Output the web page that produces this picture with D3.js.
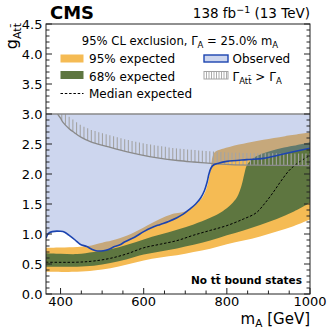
<!DOCTYPE html>
<html><head><meta charset="utf-8">
<script src="https://cdn.jsdelivr.net/npm/d3@7"></script>
<style>body{margin:0;background:#fff} svg{display:block} text{font-family:"DejaVu Sans",sans-serif;fill:#000}</style>
</head><body>
<svg id="c" width="333" height="333"></svg>
<script>
// ---- data (m_A in GeV, coupling g) ----
const observed = [[365,0.93],[371,1.01],[380,1.04],[400,1.045],[410,1.03],[420,0.98],[435,0.90],[447,0.83],[463,0.79],[475,0.745],[485,0.72],[503,0.72],[515,0.74],[530,0.79],[543,0.82],[555,0.87],[578,0.945],[600,1.04],[620,1.11],[640,1.16],[660,1.21],[680,1.27],[695,1.33],[710,1.41],[725,1.50],[737,1.60],[746,1.72],[752,1.85],[757,2.0],[762,2.10],[768,2.15],[780,2.18],[800,2.21],[848,2.24],[888,2.26],[928,2.32],[960,2.37],[1000,2.43]];
const exp95Hi = [[365,0.77],[400,0.775],[440,0.785],[466,0.80],[500,0.855],[523,0.89],[562,0.98],[600,1.11],[633,1.23],[673,1.34],[690,1.36],[700,1.38],[720,1.46],[740,1.60],[750,1.74],[756,1.9],[761,2.08],[766,2.3],[772,2.37],[808,2.455],[850,2.52],[888,2.57],[940,2.63],[1000,2.69]];
const exp68Hi = [[365,0.68],[400,0.67],[440,0.665],[480,0.70],[520,0.745],[560,0.82],[600,0.91],[640,0.99],[680,1.07],[720,1.16],[760,1.27],[790,1.38],[810,1.49],[825,1.62],[835,1.80],[842,2.0],[847,2.13],[855,2.21],[870,2.29],[890,2.35],[930,2.43],[960,2.47],[1000,2.53]];
const expMedian = [[365,0.53],[440,0.53],[480,0.55],[520,0.595],[560,0.67],[600,0.77],[640,0.83],[680,0.89],[720,0.98],[760,1.06],[800,1.14],[840,1.25],[870,1.35],[890,1.50],[910,1.68],[930,1.88],[950,2.06],[970,2.18],[1000,2.31]];
const exp68Lo = [[365,0.455],[440,0.455],[480,0.47],[520,0.515],[560,0.58],[600,0.66],[640,0.71],[680,0.76],[720,0.82],[760,0.89],[800,0.98],[840,1.06],[880,1.15],[920,1.25],[960,1.37],[1000,1.52]];
const exp95Lo = [[365,0.37],[440,0.37],[480,0.39],[520,0.43],[560,0.49],[600,0.56],[640,0.61],[680,0.645],[720,0.70],[760,0.755],[800,0.83],[840,0.89],[880,0.96],[920,1.04],[960,1.13],[1000,1.24]];
const widthLimit = [[385,3.12],[393,3.0],[400,2.93],[405,2.87],[420,2.76],[433,2.69],[450,2.61],[473,2.535],[513,2.455],[553,2.38],[593,2.32],[633,2.27],[681,2.225],[720,2.2],[777,2.17],[808,2.155],[900,2.145],[1000,2.14]];
const xTicks = [400,600,800,1000];
const yTicks = [0,0.5,1,1.5,2,2.5,3,3.5,4,4.5];

// ---- layout ----
const L=46,R=310,T=24,B=294;
const x=d3.scaleLinear().domain([365,1000]).range([L,R]);
const y=d3.scaleLinear().domain([0,4.5]).range([B,T]);
const svg=d3.select('#c');
const defs=svg.append('defs');
defs.append('clipPath').attr('id','plot').append('rect')
  .attr('x',L).attr('y',y(3.0)).attr('width',R-L).attr('height',B-y(3.0));
const g=svg.append('g').attr('clip-path','url(#plot)');
const line=d3.line().x(d=>x(d[0])).y(d=>y(d[1])).curve(d3.curveCatmullRom.alpha(0.5));
const band=(hi,lo)=>line(hi)+'L'+line(lo.slice().reverse()).slice(1)+'Z';

const YEL='#f5bb54', GRN='#5e7640', OBSF='#6782cb', OBSL='#1c44b0';
g.append('path').attr('d',band(exp95Hi,exp95Lo)).attr('fill',YEL);
g.append('path').attr('d',band(exp68Hi,exp68Lo)).attr('fill',GRN);
g.append('path').attr('d',line(expMedian)).attr('fill','none').attr('stroke','#000').attr('stroke-width',1).attr('stroke-dasharray','2.5,1.8');
g.append('path').attr('d',line(observed)+`L${x(1000)},${y(3)}L${x(365)},${y(3)}Z`).attr('fill',OBSF).attr('fill-opacity',0.33);

// hatch for Gamma > Gamma_A
const wl=d3.scaleLinear().domain(widthLimit.map(d=>d[0])).range(widthLimit.map(d=>d[1]));
const hatchM=d3.range(394,1000,8.9);
g.selectAll('line.h').data(hatchM).join('line').attr('class','h')
  .attr('x1',d=>x(d)).attr('x2',d=>x(d))
  .attr('y1',d=>y(wl(d))).attr('y2',d=>y(Math.min(3,wl(d)+0.2)))
  .attr('stroke','#a4a4a4').attr('stroke-width',1.1);
g.append('path').attr('d',line(widthLimit)).attr('fill','none').attr('stroke','#8a8a8a').attr('stroke-width',1.3);
g.append('path').attr('d',line(observed)).attr('fill','none').attr('stroke',OBSL).attr('stroke-width',1.6);
svg.append('line').attr('x1',L).attr('x2',R).attr('y1',y(3)).attr('y2',y(3)).attr('stroke','#888').attr('stroke-width',1.3);

// frame + ticks
svg.append('rect').attr('x',L).attr('y',T).attr('width',R-L).attr('height',B-T).attr('fill','none').attr('stroke','#222').attr('stroke-width',1);
const tk=svg.append('g').attr('stroke','#222').attr('stroke-width',1);
d3.range(400,1001,50).forEach(m=>{const maj=xTicks.includes(m);tk.append('line').attr('x1',x(m)).attr('x2',x(m)).attr('y1',B).attr('y2',B-(maj?6:3.5));});
d3.range(0,46).forEach(i=>{const v=i/10, maj=i%5===0, len=maj?6:3.5;
  tk.append('line').attr('x1',L).attr('x2',L+len).attr('y1',y(v)).attr('y2',y(v));
  tk.append('line').attr('x1',R).attr('x2',R-len).attr('y1',y(v)).attr('y2',y(v));});
svg.selectAll('text.xt').data(xTicks).join('text').attr('class','xt').attr('x',d=>x(d)).attr('y',B+11.5)
  .attr('text-anchor','middle').attr('font-size',13).text(d=>d);
svg.selectAll('text.yt').data(yTicks).join('text').attr('class','yt').attr('x',L-3.5).attr('y',d=>y(d)).attr('dy','0.36em')
  .attr('text-anchor','end').attr('font-size',13).text(d=>d.toFixed(1));

// titles
svg.append('text').attr('x',50).attr('y',19).attr('font-family','Liberation Sans').attr('font-weight','bold').attr('font-size',18).text('CMS');
const lumi=svg.append('text').attr('x',R).attr('y',18).attr('text-anchor','end').attr('font-family','Liberation Serif').attr('font-size',13.5);
lumi.append('tspan').text('138 fb');
lumi.append('tspan').attr('dy',-5).attr('font-size',9.5).text('−1');
lumi.append('tspan').attr('dy',5).text(' (13 TeV)');

const xl=svg.append('text').attr('x',R).attr('y',324).attr('text-anchor','end').attr('font-size',15);
xl.append('tspan').text('m');
xl.append('tspan').attr('dy',3).attr('font-size',10.5).text('A');
xl.append('tspan').attr('dy',-3).text(' [GeV]');

const yl=svg.append('text').attr('transform',`translate(17,${T-1}) rotate(-90)`).attr('text-anchor','end').attr('font-size',16);
yl.append('tspan').text('g');
yl.append('tspan').attr('dy',3.5).attr('font-size',11).text('Att\u0304');

svg.append('text').attr('x',302).attr('y',284).attr('text-anchor','end').attr('font-family','Liberation Sans').attr('font-weight','bold').attr('font-size',10.5).text('No tt\u0304 bound states');

// legend
const lt=svg.append('text').attr('x',180).attr('y',45).attr('text-anchor','middle').attr('font-size',11.6);
lt.append('tspan').text('95% CL exclusion, Γ');
lt.append('tspan').attr('dy',3).attr('font-size',8.5).text('A');
lt.append('tspan').attr('dy',-3).text(' = 25.0% m');
lt.append('tspan').attr('dy',3).attr('font-size',8.5).text('A');

svg.append('rect').attr('x',60.5).attr('y',54.5).attr('width',23).attr('height',8).attr('fill',YEL);
svg.append('text').attr('x',89).attr('y',63).attr('font-size',12).text('95% expected');
svg.append('rect').attr('x',60.5).attr('y',71).attr('width',23).attr('height',8).attr('fill',GRN);
svg.append('text').attr('x',89).attr('y',80.5).attr('font-size',12).text('68% expected');
svg.append('line').attr('x1',60.5).attr('x2',83.5).attr('y1',93.5).attr('y2',93.5).attr('stroke','#000').attr('stroke-dasharray','2.5,1.8');
svg.append('text').attr('x',89).attr('y',98).attr('font-size',12).text('Median expected');

svg.append('rect').attr('x',204).attr('y',55).attr('width',24).attr('height',7).attr('fill',OBSF).attr('fill-opacity',0.33).attr('stroke',OBSL).attr('stroke-width',1.4);
svg.append('text').attr('x',232.5).attr('y',63).attr('font-size',12).text('Observed');
svg.append('rect').attr('x',204).attr('y',71.5).attr('width',24).attr('height',7.5).attr('fill','none').attr('stroke','#a4a4a4').attr('stroke-width',1);
svg.selectAll('line.lh').data(d3.range(206.5,228,2.5)).join('line').attr('class','lh')
  .attr('x1',d=>d).attr('x2',d=>d).attr('y1',71.5).attr('y2',79).attr('stroke','#a4a4a4').attr('stroke-width',0.9);
const ll=svg.append('text').attr('x',232.5).attr('y',80.5).attr('font-size',12);
ll.append('tspan').text('Γ');
ll.append('tspan').attr('dy',3).attr('font-size',8.5).text('Att\u0304');
ll.append('tspan').attr('dy',-3).text(' > Γ');
ll.append('tspan').attr('dy',3).attr('font-size',8.5).text('A');
</script>
</body></html>
